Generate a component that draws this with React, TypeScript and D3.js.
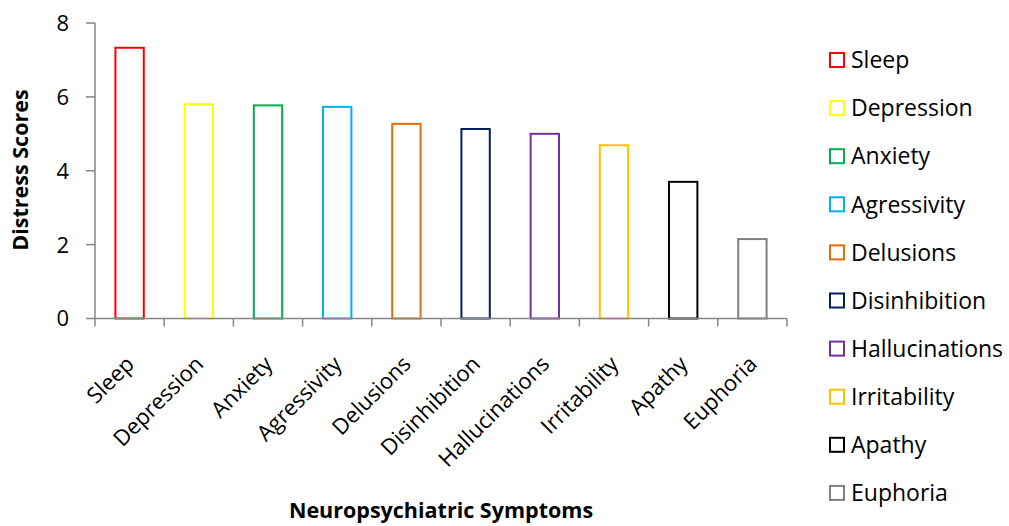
import React from "react";
import * as d3 from "d3";

const categories = [
  "Sleep",
  "Depression",
  "Anxiety",
  "Agressivity",
  "Delusions",
  "Disinhibition",
  "Hallucinations",
  "Irritability",
  "Apathy",
  "Euphoria",
];
const scores = [7.33, 5.8, 5.77, 5.73, 5.27, 5.13, 5.0, 4.69, 3.7, 2.15];
const colors = [
  "#FF0000",
  "#FFFF00",
  "#00B050",
  "#00B0F0",
  "#E46C0A",
  "#002060",
  "#7030A0",
  "#FFC000",
  "#000000",
  "#808080",
];
const yTicks = [0, 2, 4, 6, 8];

const W = 1009;
const H = 526;
const FONT = "'Open Sans', sans-serif";
const AXIS = "#868686";

export default function App() {
  const left = 95;
  const right = 787;
  const top = 23;
  const bottom = 318.5;

  const x = d3.scaleBand<string>().domain(categories).range([left, right]).paddingInner(0).paddingOuter(0);
  const y = d3.scaleLinear().domain([0, 8]).range([bottom, top]);
  const bw = x.bandwidth() * 0.41;

  return (
    <svg width={W} height={H} style={{ position: "absolute", left: 0, top: 0 }} fontFamily={FONT}>
      <rect width={W} height={H} fill="#fff" />
      {/* bars */}
      {categories.map((c, i) => {
        const cx = (x(c) as number) + x.bandwidth() / 2;
        return (
          <rect
            key={c}
            x={cx - bw / 2}
            y={y(scores[i])}
            width={bw}
            height={y(0) - y(scores[i])}
            fill="#fff"
            stroke={colors[i]}
            strokeWidth={2}
          />
        );
      })}
      {/* y axis */}
      <line x1={left} x2={left} y1={top} y2={bottom} stroke={AXIS} strokeWidth={1.5} />
      {yTicks.map((t) => (
        <g key={t}>
          <line x1={left - 9} x2={left} y1={y(t)} y2={y(t)} stroke={AXIS} strokeWidth={1.5} />
          <text x={69} y={y(t)} dy="0.36em" textAnchor="end" fontSize={22} fill="#000">
            {t}
          </text>
        </g>
      ))}
      {/* x axis */}
      <line x1={left} x2={right} y1={bottom} y2={bottom} stroke={AXIS} strokeWidth={1.5} />
      {d3.range(categories.length + 1).map((k) => {
        const tx = left + k * x.bandwidth();
        return <line key={k} x1={tx} x2={tx} y1={bottom} y2={bottom + 8} stroke={AXIS} strokeWidth={1.5} />;
      })}
      {categories.map((c) => {
        const cx = (x(c) as number) + x.bandwidth() / 2;
        return (
          <text
            key={c}
            transform={`translate(${cx - 5},${bottom + 36}) rotate(-45)`}
            textAnchor="end"
            dy="0.7em"
            fontSize={22}
            fill="#000"
          >
            {c}
          </text>
        );
      })}
      {/* axis titles */}
      <text
        transform={`translate(28,170) rotate(-90)`}
        textAnchor="middle"
        fontSize={21.5}
        fontWeight="bold"
        fill="#000"
      >
        Distress Scores
      </text>
      <text x={441} y={518} textAnchor="middle" fontSize={21.5} fontWeight="bold" fill="#000">
        Neuropsychiatric Symptoms
      </text>
      {/* legend */}
      {categories.map((c, i) => {
        const ly = 60 + i * 48.1;
        return (
          <g key={c}>
            <rect x={830} y={ly - 7} width={14} height={14} fill="#fff" stroke={colors[i]} strokeWidth={2} />
            <text x={851} y={ly} dy="0.36em" fontSize={23} fill="#000">
              {c}
            </text>
          </g>
        );
      })}
    </svg>
  );
}
